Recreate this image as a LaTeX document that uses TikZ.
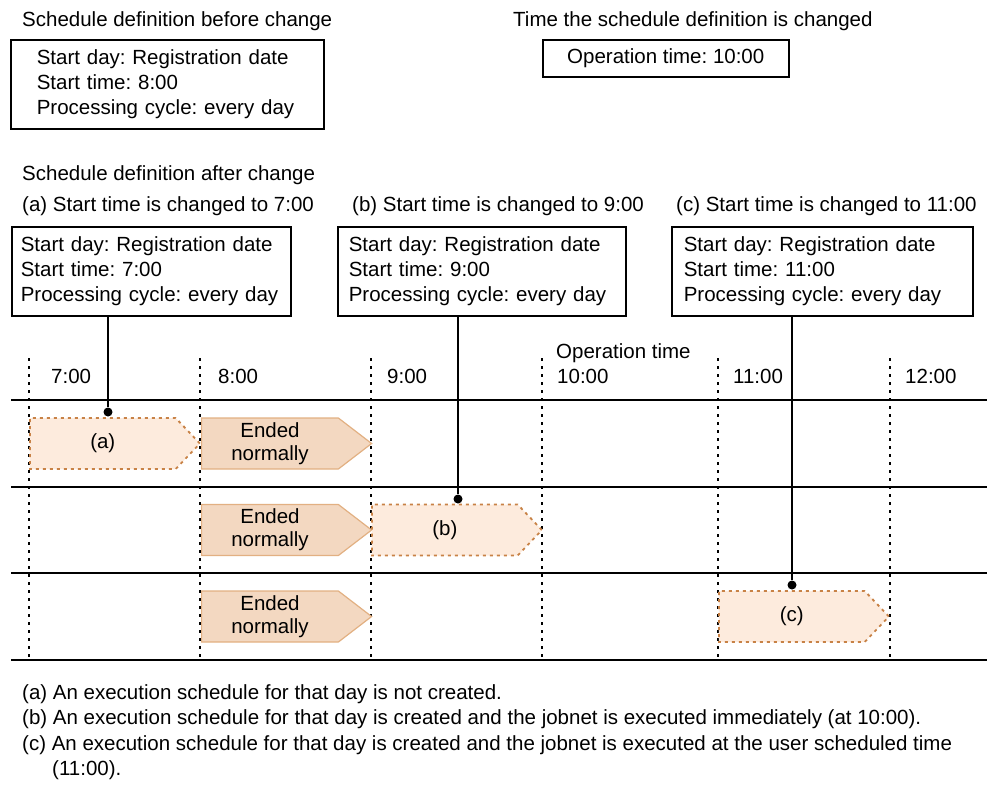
\documentclass[tikz,border=0pt]{standalone}
\usepackage{fontspec}
\setmainfont{Liberation Sans}
\frenchspacing
\usetikzlibrary{shapes.symbols}
\definecolor{cDONE}{RGB}{243,216,193}
\definecolor{cDONEline}{RGB}{226,176,130}
\definecolor{cPLAN}{RGB}{253,235,221}
\definecolor{cPLANline}{RGB}{200,130,70}
\tikzset{
  every node/.style={font=\fontsize{20.5}{25}\selectfont, inner sep=0pt},
  lbl/.style={anchor=base west},
  defbox/.style={draw, line width=1.5pt, anchor=north west, align=left, minimum height=89pt},
  axisline/.style={line width=1.6pt},
  hourline/.style={line width=1.6pt, dash pattern=on 2.5pt off 5.5pt},
  jobdone/.style={signal, signal to=east, signal pointer angle=75, draw=cDONEline, fill=cDONE,
    line width=1.2pt, minimum width=170pt, minimum height=51pt, align=center, anchor=west,
    font=\fontsize{20.5}{23}\selectfont},
  jobplan/.style={jobdone, signal pointer angle=93, draw=cPLANline, fill=cPLAN,
    line width=1.8pt, dash pattern=on 3pt off 4pt},
  dotmark/.style={circle, fill, minimum size=9pt},
  stem/.style={line width=1.6pt},
}
\begin{document}
\begin{tikzpicture}[x=1pt,y=-1pt]
\useasboundingbox (0,0) rectangle (987,793);
% definitions
\node[lbl] (ttlBefore) at (22,26) {Schedule definition before change};
\node[defbox, inner xsep=26pt, text width=261pt] (defBefore) at (10,39)
  {Start day: Registration date\\Start time: 8:00\\Processing cycle: every day};
\node[lbl] (ttlChange) at (513,26) {Time the schedule definition is changed};
\node[defbox, align=center, minimum width=246pt, minimum height=37pt] (defChange) at (542,39) {Operation time: 10:00};
\node[lbl] (ttlAfter) at (22,180) {Schedule definition after change};
\node[lbl] (ttlA) at (22,211) {(a) Start time is changed to 7:00};
\node[lbl] (ttlB) at (352,211) {(b) Start time is changed to 9:00};
\node[lbl] (ttlC) at (676,211) {(c) Start time is changed to 11:00};
\node[defbox, inner xsep=9pt, text width=261pt] (defA) at (11,226)
  {Start day: Registration date\\Start time: 7:00\\Processing cycle: every day};
\node[defbox, inner xsep=11pt, text width=266pt] (defB) at (337,226)
  {Start day: Registration date\\Start time: 9:00\\Processing cycle: every day};
\node[defbox, inner xsep=12pt, text width=277pt] (defC) at (671,226)
  {Start day: Registration date\\Start time: 11:00\\Processing cycle: every day};
% time axis
\foreach \y in {400,487,573,660}
  \draw[axisline] (11,\y) -- (987,\y);
\foreach \x in {29,200,371,542,718,890}
  \draw[hourline] (\x,358) -- (\x,660);
\foreach \x/\t/\n in {51/7:00/hSeven,218/8:00/hEight,387/9:00/hNine,557/10:00/hTen,733/11:00/hEleven,905/12:00/hTwelve}
  \node[lbl] (\n) at (\x,383) {\t};
\node[lbl] (opTime) at (556,358) {Operation time};
% jobs
\node[jobplan] (runA) at (29,443.5) {(a)};
\node[jobdone] (doneA) at (201,443.5) {Ended\\normally};
\node[jobdone] (doneB) at (201,530) {Ended\\normally};
\node[jobplan] (runB) at (371,530) {(b)};
\node[jobdone] (doneC) at (201,616.5) {Ended\\normally};
\node[jobplan] (runC) at (718,616.5) {(c)};
\node[dotmark] (dotA) at (108,412) {};
\node[dotmark] (dotB) at (458,499) {};
\node[dotmark] (dotC) at (792,585) {};
\draw[stem] (dotA |- defA.south) -- (dotA);
\draw[stem] (dotB |- defB.south) -- (dotB);
\draw[stem] (dotC |- defC.south) -- (dotC);
% notes
\node[anchor=north west, align=left, font=\fontsize{20.5}{25.5}\selectfont] (notes) at (22,684)
  {(a) An execution schedule for that day is not created.\\
   (b) An execution schedule for that day is created and the jobnet is executed immediately (at 10:00).\\
   (c) An execution schedule for that day is created and the jobnet is executed at the user scheduled time\\
   \hspace*{30pt}(11:00).};
\end{tikzpicture}
\end{document}
